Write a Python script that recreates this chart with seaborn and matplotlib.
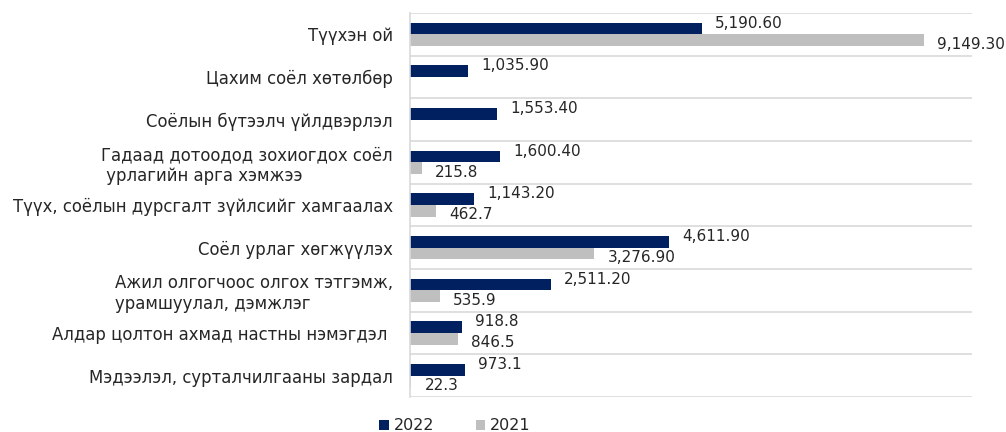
import numpy as np
import pandas as pd
import matplotlib
matplotlib.use("Agg")
import matplotlib.pyplot as plt
import seaborn as sns
from matplotlib.patches import Patch

categories = [
    "Түүхэн ой",
    "Цахим соёл хөтөлбөр",
    "Соёлын бүтээлч үйлдвэрлэл",
    "Гадаад дотоодод зохиогдох соёл\n урлагийн арга хэмжээ",
    "Түүх, соёлын дурсгалт зүйлсийг хамгаалах",
    "Соёл урлаг хөгжүүлэх",
    "Ажил олгогчоос олгох тэтгэмж,\nурамшуулал, дэмжлэг",
    "Алдар цолтон ахмад настны нэмэгдэл ",
    "Мэдээлэл, сурталчилгааны зардал",
]
values_2022 = [5190.6, 1035.9, 1553.4, 1600.4, 1143.2, 4611.9, 2511.2, 918.8, 973.1]
values_2021 = [9149.3, np.nan, np.nan, 215.8, 462.7, 3276.9, 535.9, 846.5, 22.3]
series = ["2022", "2021"]
colors = {"2022": "#002060", "2021": "#BFBFBF"}

sns.set_theme(style="white")
plt.rcParams["font.family"] = ["DejaVu Sans"]

df = pd.DataFrame({
    "category": categories * 2,
    "value": values_2022 + values_2021,
    "year": ["2022"] * len(categories) + ["2021"] * len(categories),
})

fig = plt.figure(figsize=(10.06, 4.32), dpi=100)
ax = fig.add_axes([410 / 1006, 1 - 397 / 432, (972 - 410) / 1006, (397 - 13) / 432])

sns.barplot(data=df, y="category", x="value", hue="year", hue_order=series,
            palette=colors, orient="h", width=0.54, gap=0, ax=ax,
            legend=False, saturation=1, errorbar=None, linewidth=0)

ax.set_xlim(0, 10000)
ax.set_ylim(len(categories) - 0.5, -0.5)
ax.set_xlabel("")
ax.set_ylabel("")
ax.set_xticks([])
ax.tick_params(axis="y", length=0, pad=12.5, labelsize=11.9, labelcolor="#262626")
for lbl in ax.get_yticklabels():
    lbl.set_multialignment("left")
    lbl.set_linespacing(1.2)

# category separators
ax.set_yticks(np.arange(-0.5, len(categories), 1.0), minor=True)
ax.grid(True, axis="y", which="minor", color="#D9D9D9", linewidth=1.2)
ax.grid(False, axis="y", which="major")
ax.tick_params(axis="y", which="minor", length=0)

for s in ["top", "right", "bottom"]:
    ax.spines[s].set_visible(False)
ax.spines["left"].set_color("#D9D9D9")
ax.spines["left"].set_linewidth(1.2)

def fmt(v):
    return f"{v:,.2f}" if v >= 1000 else f"{v:.1f}"

offsets = {"2022": 4, "2021": -3}
for container, name in zip(ax.containers, series):
    for bar in container:
        w = bar.get_width()
        if np.isnan(w):
            continue
        y = bar.get_y() + bar.get_height() / 2
        ax.annotate(fmt(w), xy=(w, y), xytext=(9.5, offsets[name]),
                    textcoords="offset points", ha="left", va="center",
                    fontsize=11, color="#262626", annotation_clip=False)

handles = [Patch(facecolor=colors[s], edgecolor="none") for s in series]
fig.legend(handles, series, loc="center", bbox_to_anchor=(455 / 1006, 1 - 426 / 432),
           ncol=2, frameon=False, handlelength=0.6, handleheight=0.6,
           handletextpad=0.3, columnspacing=2.6, fontsize=11.5,
           labelcolor="#262626")

fig.savefig("out.png", dpi=100)
